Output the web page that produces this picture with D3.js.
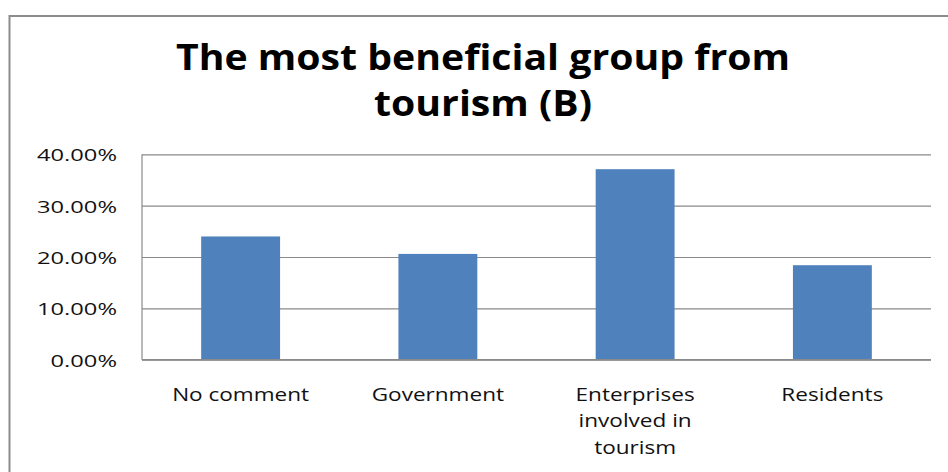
<!DOCTYPE html>
<html>
<head>
<meta charset="utf-8">
<script src="https://cdn.jsdelivr.net/npm/d3@7"></script>
<style>
  body { margin: 0; background: #fff; }
  svg { display: block; }
  text { font-family: "Open Sans", "DejaVu Sans", sans-serif; }
</style>
</head>
<body>
<svg id="chart" width="948" height="472"></svg>
<script>
// Survey answers: which group benefits most from tourism
const titleLines = ["The most beneficial group from", "tourism (B)"];
const categories = ["No comment", "Government", "Enterprises involved in tourism", "Residents"];
const categoryLines = [["No comment"], ["Government"], ["Enterprises", "involved in", "tourism"], ["Residents"]];
const values = [0.240, 0.206, 0.371, 0.184];
const yTicks = [0, 0.10, 0.20, 0.30, 0.40];

const svg = d3.select("#chart");
const plot = { left: 142, right: 931, top: 154.3, bottom: 359.7 };
const barColor = "#4f81bd";
const gridColor = "#8a8a8a";

// stretch a text element horizontally to a target width
function stretchTo(sel, width) {
  sel.each(function () {
    d3.select(this).attr("textLength", width).attr("lengthAdjust", "spacingAndGlyphs");
  });
}
function stretchBy(sel, factor) {
  sel.each(function () {
    const w = this.getComputedTextLength();
    d3.select(this).attr("textLength", w * factor).attr("lengthAdjust", "spacingAndGlyphs");
  });
}

// outer chart frame
svg.append("rect")
  .attr("x", 9.5).attr("y", 16)
  .attr("width", 948).attr("height", 480)
  .attr("fill", "#fff")
  .attr("stroke", "#8c8c8c").attr("stroke-width", 2);

// title
const title = svg.append("g");
titleLines.forEach((line, i) => {
  title.append("text")
    .attr("x", 483).attr("y", 70 + i * 45.5)
    .attr("text-anchor", "middle")
    .attr("font-size", 35).attr("font-weight", 700)
    .attr("fill", "#000")
    .text(line);
});
const tl = title.selectAll("text").nodes();
const titleFactor = 614 / tl[0].getComputedTextLength();
stretchBy(title.selectAll("text"), titleFactor);

const x = d3.scaleBand()
  .domain(categories)
  .range([plot.left, plot.right])
  .paddingInner(0.6)
  .paddingOuter(0.3);

const y = d3.scaleLinear()
  .domain([0, 0.4])
  .range([plot.bottom, plot.top]);

// horizontal gridlines and value labels
const yAxis = d3.axisLeft(y)
  .tickValues(yTicks)
  .tickFormat(d3.format(".2%"))
  .tickSize(-(plot.right - plot.left))
  .tickPadding(25);

const gy = svg.append("g")
  .attr("transform", `translate(${plot.left},0)`)
  .call(yAxis);
gy.select(".domain").attr("stroke", gridColor).attr("stroke-width", 1.2)
  .attr("d", `M0,${plot.top}V${plot.bottom}`);
gy.selectAll(".tick line").attr("stroke", gridColor).attr("stroke-width", 1.2);
gy.selectAll(".tick text")
  .attr("font-size", 15.5)
  .attr("fill", "#111")
  .attr("dy", "0.42em");
const tickFactor = 80 / gy.selectAll(".tick text").filter(d => d === 0.4).node().getComputedTextLength();
stretchBy(gy.selectAll(".tick text"), tickFactor);

// bars
svg.append("g")
  .selectAll("rect")
  .data(values)
  .join("rect")
  .attr("x", (d, i) => x(categories[i]))
  .attr("y", d => y(d))
  .attr("width", x.bandwidth())
  .attr("height", d => y(0) - y(d))
  .attr("fill", barColor);

// category axis line
svg.append("line")
  .attr("x1", plot.left).attr("x2", plot.right)
  .attr("y1", plot.bottom).attr("y2", plot.bottom)
  .attr("stroke", gridColor).attr("stroke-width", 1.5);

// category labels
const cats = svg.append("g");
categories.forEach((c, i) => {
  const cx = x(c) + x.bandwidth() / 2;
  categoryLines[i].forEach((line, j) => {
    cats.append("text")
      .attr("x", cx).attr("y", 400.7 + j * 26.4)
      .attr("text-anchor", "middle")
      .attr("font-size", 18.5)
      .attr("fill", "#111")
      .text(line);
  });
});
const catFactor = 137 / cats.selectAll("text").filter(function () { return this.textContent === "No comment"; }).node().getComputedTextLength();
stretchBy(cats.selectAll("text"), catFactor);
</script>
</body>
</html>
